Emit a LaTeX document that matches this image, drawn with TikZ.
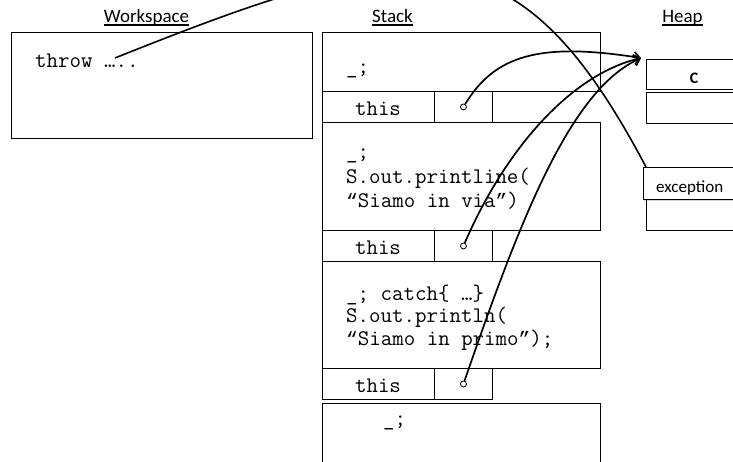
\documentclass[tikz,border=0pt]{standalone}
\usepackage{fontspec}
\setmainfont{Carlito}
\newfontfamily\qfont[Scale=0.875]{Liberation Mono}
\newcommand{\openq}{{\qfont“}}
\newcommand{\closeq}{{\qfont”}}
\usetikzlibrary{arrows.meta,shadows}

\tikzset{
	box/.style={draw, line width=0.9pt, inner sep=0pt, anchor=north west},
	code/.style={font=\ttfamily\fontsize{22.3}{26}\selectfont, inner sep=0pt, anchor=base west},
	title/.style={font=\fontsize{19}{23}\selectfont, inner sep=0pt, anchor=base},
	ref/.style={line width=1.7pt, -{Straight Barb[length=6pt,width=10pt]}},
	dot/.style={circle, draw, fill=white, line width=0.8pt, inner sep=0pt, minimum size=6pt}
}

\begin{document}
\begin{tikzpicture}[x=1pt, y=-1pt]
	\useasboundingbox (0,0) rectangle (733,461);
	\clip (0,0) rectangle (733,461);
	% titles
	\node[title] (ws) at (146.5,22) {Workspace};
	\node[title] (st) at (392.5,22) {Stack};
	\node[title] (hp) at (682.5,22) {Heap};
	\foreach \t in {ws,st,hp}
		\draw[line width=2pt] ([yshift=-3pt]\t.base west) -- ([yshift=-3pt]\t.base east);
	% workspace
	\node[box, minimum width=301pt, minimum height=106pt] (wsbox) at (11,32) {};
	\node[code] (thr) at (35,67) {throw …..};
	\coordinate (throwpt) at (115,58);
	% stack frames
	\node[box, minimum width=278pt, minimum height=59pt] (fr1) at (322,32) {};
	\node[box, minimum width=278pt, minimum height=108pt] (fr2) at (322,122) {};
	\node[box, minimum width=278pt, minimum height=107pt] (fr3) at (322,261) {};
	\node[box, minimum width=278pt, minimum height=80pt] (fr4) at (322,403) {};
	\foreach \y [count=\i] in {91,230,368} {
		\node[box, minimum width=112pt, minimum height=31pt] (th\i) at (322,\y) {};
		\node[box, minimum width=58pt, minimum height=31pt] (pt\i) at (434,\y) {};
		\node[code, anchor=base] at (378,\y+24) {this};
		\node[dot] (d\i) at (pt\i.center) {};
	}
	\node[code] (l1) at (346,73) {\_;};
	\node[code] (l2) at (346,158) {\_;};
	\node[code] (l3) at (346,183) {S.out.printline(};
	\node[code] (l4) at (346,207) {\openq Siamo in via\closeq)};
	\node[code] (l5) at (346,300) {\_; catch\{ …\}};
	\node[code] (l6) at (346,322) {S.out.println(};
	\node[code] (l7) at (346,345) {\openq Siamo in primo\closeq);};
	\node[code] (l8) at (383,425) {\_;};
	% heap
	\node[box, minimum width=100pt, minimum height=64pt] (objc) at (646,59) {};
	\draw[double, line width=0.6pt, double distance=2pt] (objc.west |- 0,91) -- (740,91);
	\node[font=\bfseries\fontsize{16}{18}\selectfont] (c) at (694,78) {C};
	\node[box, minimum width=100pt, minimum height=63pt] (exc) at (646,167) {};
	\node[box, fill=white, drop shadow={shadow xshift=1pt, shadow yshift=-1.5pt, opacity=0.35}, minimum width=100pt, minimum height=32pt] (exclab) at (643,167) {};
	\node[font=\fontsize{17}{20}\selectfont, inner sep=0pt, anchor=base west] (exctxt) at (656,192) {exception};
	% references
	\coordinate (tip) at (641,58);
	\draw[line width=1.6pt] (throwpt) .. controls (415,-62) and (515,-81) .. (exc.north west);
	\draw[ref] (d1) .. controls (495,55) and (540,42) .. (tip);
	\draw[ref] (d2) .. controls (505,150) and (570,75) .. (tip);
	\draw[ref] (d3) .. controls (520,220) and (570,90) .. (tip);
\end{tikzpicture}
\end{document}
